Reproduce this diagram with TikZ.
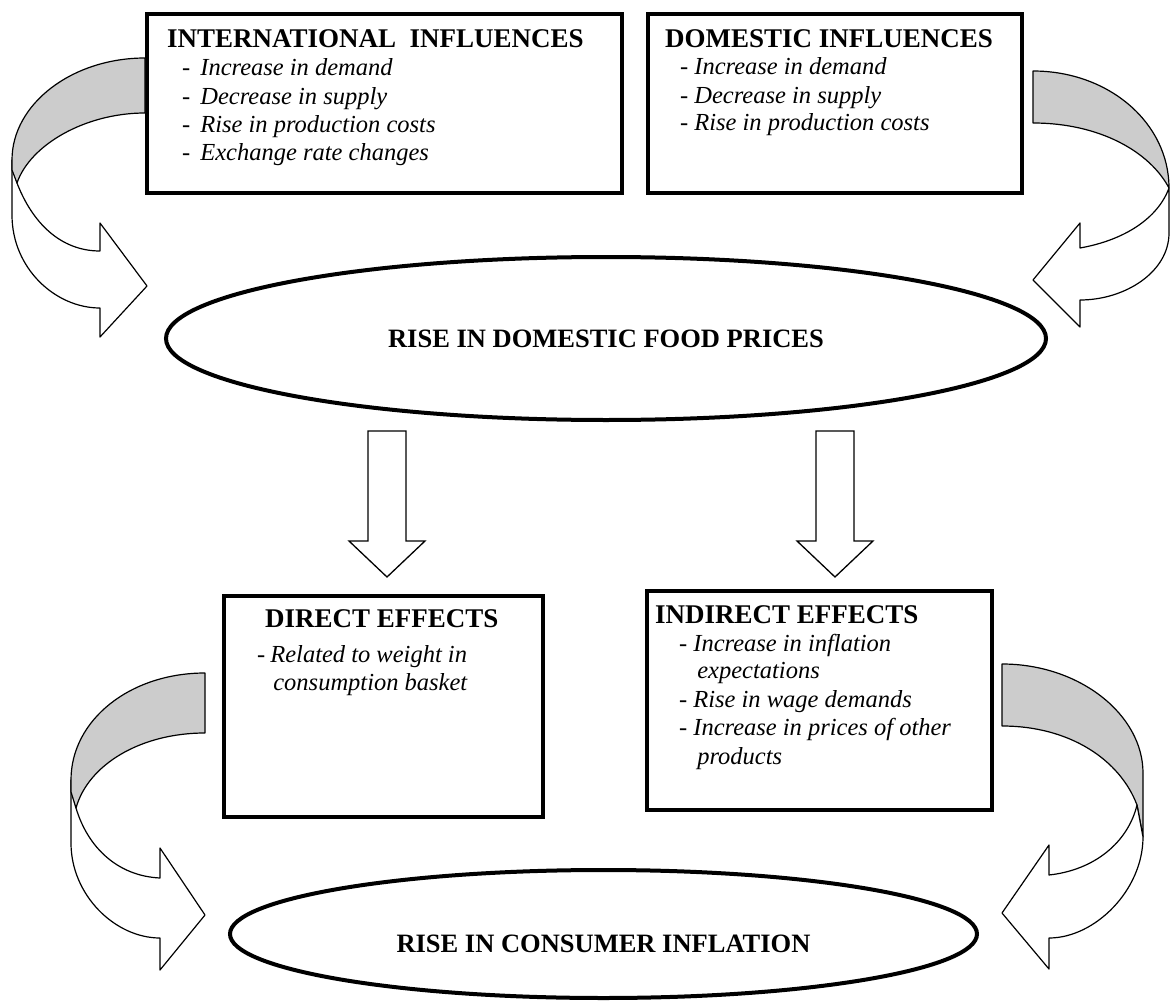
\documentclass[tikz,border=0pt]{standalone}
\usepackage{fontspec}
\setmainfont{Liberation Serif}
\usepackage{array}
\usepackage{tikz}
\usetikzlibrary{shapes.geometric}

\newcommand{\headfont}{\fontsize{27}{28.5}\selectfont\bfseries}

\begin{document}
\begin{tikzpicture}[
    x=1pt,y=-1pt,
    infobox/.style={draw,rectangle,line width=3.5pt,inner sep=0pt,anchor=north west},
    oval/.style={draw,ellipse,line width=4pt,inner sep=0pt},
    boxtext/.style={anchor=base west,inner sep=0pt,font=\fontsize{24.5}{28.5}\selectfont},
    ovaltext/.style={font=\fontsize{26.5}{28}\selectfont\bfseries},
    backband/.style={draw,line width=1.2pt,fill=black!20,line join=round},
    frontband/.style={draw,line width=1.2pt,fill=white,line join=round},
    blockarrow/.style={draw,line width=1.3pt,fill=white,line join=miter}
    ]

    \useasboundingbox (0,0) rectangle (1171,1001);

    % boxes
    \node[infobox,minimum width=475pt,minimum height=179pt] (intl) at (145,12) {};
    \node[infobox,minimum width=374pt,minimum height=179pt] (dom) at (646,12) {};
    \node[infobox,minimum width=319pt,minimum height=221pt] (direct) at (222,594) {};
    \node[infobox,minimum width=345pt,minimum height=219pt] (indirect) at (645,589) {};

    \node[boxtext] (intltext) at (167,47) {%
      \begin{tabular}[t]{@{\hspace{15pt}}l@{\hspace{10pt}}>{\itshape}l@{}}
        \multicolumn{2}{@{}l@{}}{\headfont INTERNATIONAL\ \ INFLUENCES}\\
        - & Increase in demand\\
        - & Decrease in supply\\
        - & Rise in production costs\\
        - & Exchange rate changes
      \end{tabular}};
    \node[boxtext] (domtext) at (665,47) {%
      \begin{tabular}[t]{@{\hspace{15pt}}l@{\hspace{6pt}}>{\itshape}l@{}}
        \multicolumn{2}{@{}l@{}}{\headfont DOMESTIC INFLUENCES}\\[-0.5pt]
        - & Increase in demand\\[-0.5pt]
        - & Decrease in supply\\[-0.5pt]
        - & Rise in production costs
      \end{tabular}};
    \node[boxtext] (directtext) at (257,627) {%
      \begin{tabular}[t]{@{}l@{\hspace{5pt}}>{\itshape}l@{}}
        \multicolumn{2}{@{\hspace{8pt}}l@{}}{\headfont DIRECT EFFECTS}\\[6.5pt]
        - & Related to weight in\\
          & \hspace{3pt}consumption basket
      \end{tabular}};
    \node[boxtext] (indirecttext) at (655,623) {%
      \begin{tabular}[t]{@{\hspace{24pt}}l@{\hspace{6pt}}>{\itshape}l@{}}
        \multicolumn{2}{@{}l@{}}{\headfont INDIRECT EFFECTS}\\
        - & Increase in inflation\\[-1.5pt]
          & \hspace{4pt}expectations\\
        - & Rise in wage demands\\
        - & Increase in prices of other\\
          & \hspace{4pt}products
      \end{tabular}};

    % ovals
    \node[oval,minimum width=880pt,minimum height=163pt,ovaltext] (food) at (606,338.5) {RISE IN DOMESTIC FOOD PRICES};
    \node[oval,minimum width=747pt,minimum height=128pt] (consumer) at (603.5,934) {};
    \node[ovaltext,anchor=base,inner sep=0pt] (consumertext) at (603.5,952) {RISE IN CONSUMER INFLATION};

    % straight block arrows
    \coordinate (dleft) at (387,431);
    \coordinate (dright) at (835,431);
    \foreach \c in {dleft,dright}
      \draw[blockarrow] (\c) ++(-19,0) -- ++(0,110) -- ++(-19,0) -- ++(38,36)
        -- ++(38,-36) -- ++(-19,0) -- ++(0,-110) -- cycle;

    % curved arrow, top left
    \draw[frontband] (12,160) -- (12,215) .. controls (12,268) and (55,308) .. (100,308)
      -- (100,337) -- (147,286) -- (100,223) -- (100,251)
      .. controls (60,251) and (32,222) .. (17,183) -- cycle;
    \draw[backband] (145,58) .. controls (72,58) and (12,104) .. (12,160) -- (12,170) -- (17,183)
      .. controls (30,145) and (85,113) .. (145,113) -- cycle;

    % curved arrow, top right
    \draw[frontband] (1169,188) -- (1169,233) .. controls (1169,272) and (1125,300) .. (1080,300)
      -- (1080,327) -- (1033,280) -- (1080,223) -- (1080,248)
      .. controls (1125,240) and (1158,218) .. (1169,188) -- cycle;
    \draw[backband] (1033,71) .. controls (1109,71) and (1169,123) .. (1169,188)
      .. controls (1150,152) and (1100,123) .. (1033,123) -- cycle;

    % curved arrow, bottom left
    \draw[frontband] (71,780) -- (71,843) .. controls (71,895) and (115,938) .. (160,938)
      -- (160,970) -- (205,915) -- (160,848) -- (160,878)
      .. controls (118,876) and (88,848) .. (76,808) -- cycle;
    \draw[backband] (205,673) .. controls (130,673) and (71,720) .. (71,780) -- (71,792) -- (76,808)
      .. controls (88,765) and (140,733) .. (205,733) -- cycle;

    % curved arrow, bottom right
    \draw[backband] (1002,664) .. controls (1080,664) and (1143,715) .. (1143,773) -- (1143,837)
      -- (1137,805) .. controls (1120,760) and (1070,726) .. (1002,726) -- cycle;
    \draw[frontband] (1137,805) -- (1143,837) .. controls (1143,890) and (1095,938) .. (1049,938)
      -- (1049,969) -- (1002,913) -- (1049,845) -- (1049,875)
      .. controls (1095,870) and (1128,842) .. (1137,805) -- cycle;

\end{tikzpicture}
\end{document}
